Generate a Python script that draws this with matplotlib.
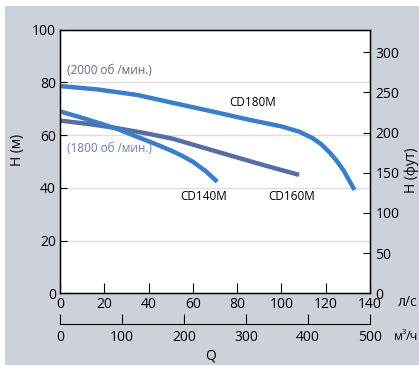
import numpy as np
import matplotlib.pyplot as plt
from matplotlib.patches import Rectangle

plt.rcParams['font.family'] = ['Open Sans', 'DejaVu Sans']

# Q (л/с) and H (м)
q_180 = [0, 17, 35, 50, 68, 86, 100, 108, 114, 118, 122, 125, 128, 133]
h_180 = [78.6, 77.3, 75.2, 72.4, 69.1, 65.7, 63.3, 61.3, 58.9, 56.5, 53.2, 50.2, 46.7, 39.2]
q_160 = [0, 13, 26, 40, 51, 71, 92, 108]
h_160 = [65.5, 64.2, 62.6, 60.5, 58.6, 53.7, 48.6, 44.9]
q_140 = [0, 9, 17, 26, 35, 44, 50, 55, 60, 66, 71]
h_140 = [69.0, 66.8, 64.7, 62.3, 59.3, 56.3, 54.2, 52.2, 49.9, 46.2, 42.3]

ls_ticks = [0, 20, 40, 60, 80, 100, 120, 140]
m3h_ticks = [0, 100, 200, 300, 400, 500]
h_ticks = [0, 20, 40, 60, 80, 100]
ft_ticks = [0, 50, 100, 150, 200, 250, 300]

W, H = 419, 365
blue = '#3a7dc8'
slate = '#566fa0'
bg = '#cdd1da'

fig = plt.figure(figsize=(W / 100, H / 100), dpi=100)
fig.patch.set_facecolor('white')
fig.patches.append(Rectangle((5 / W, 0), 1, (H - 6) / H, transform=fig.transFigure,
                             facecolor=bg, edgecolor='none', zorder=-10))

ax = fig.add_axes([60 / W, (H - 293.3) / H, 310 / W, 263.7 / H])
ax.set_facecolor('white')
ax.set_xlim(0, 140)
ax.set_ylim(0, 100)
for y in [20, 40, 60, 80]:
    ax.axhline(y, color='#dedede', lw=1, zorder=0)

ax.plot(q_140, h_140, color=blue, lw=3.2, solid_capstyle='butt', solid_joinstyle='round', zorder=3)
ax.plot(q_160, h_160, color=slate, lw=3.2, solid_capstyle='butt', solid_joinstyle='round', zorder=2)
ax.plot(q_180, h_180, color=blue, lw=3.2, solid_capstyle='butt', solid_joinstyle='round', zorder=3)

for s in ax.spines.values():
    s.set_color('black')
    s.set_linewidth(1)
ax.set_xticks(ls_ticks)
ax.set_yticks(h_ticks)
ax.tick_params(axis='x', direction='in', length=7, labelsize=10, pad=3)
ax.tick_params(axis='y', direction='in', length=5, labelsize=10, pad=3)

ax_r = ax.twinx()
ax_r.set_ylim(0, 100 / 0.3048)
ax_r.set_yticks(ft_ticks)
ax_r.tick_params(axis='y', direction='in', length=5, labelsize=10, pad=4)

# second flow scale in м³/ч
ax_q = fig.add_axes([60 / W, (H - 324) / H, 310 / W, 0.0001])
ax_q.set_xlim(0, 500)
ax_q.set_yticks([])
for k in ['top', 'left', 'right']:
    ax_q.spines[k].set_visible(False)
ax_q.patch.set_visible(False)
ax_q.set_xticks(m3h_ticks)
ax_q.tick_params(axis='x', direction='in', length=7, labelsize=10, pad=4)

def px(x, y):
    return x / W, 1 - y / H

fig.text(*px(398, 303), 'л/с', fontsize=10, va='center', ha='left')
fig.text(*px(394, 337), 'м', fontsize=9, va='center', ha='left')
fig.text(*px(401.8, 332), '3', fontsize=5.5, va='center', ha='left')
fig.text(*px(406.2, 337), '/ч', fontsize=9, va='center', ha='left')
fig.text(*px(210, 356), 'Q', fontsize=10, va='center', ha='center')
fig.text(*px(18, 150), 'H (м)', fontsize=10, va='center', ha='center', rotation=90)
fig.text(*px(411, 170), 'H (фут)', fontsize=10, va='center', ha='center', rotation=90)

fig.text(*px(67, 70), '(2000 об /мин.)', fontsize=8.5, color='#5b6b8c', va='center')
fig.text(*px(67, 149), '(1800 об /мин.)', fontsize=8.5, color='#6a80aa', va='center')
fig.text(*px(253, 102), 'CD180M', fontsize=8.5, va='center', ha='center')
fig.text(*px(204, 197), 'CD140M', fontsize=8.5, va='center', ha='center')
fig.text(*px(292, 197), 'CD160M', fontsize=8.5, va='center', ha='center')

fig.savefig('out.png', dpi=100)
